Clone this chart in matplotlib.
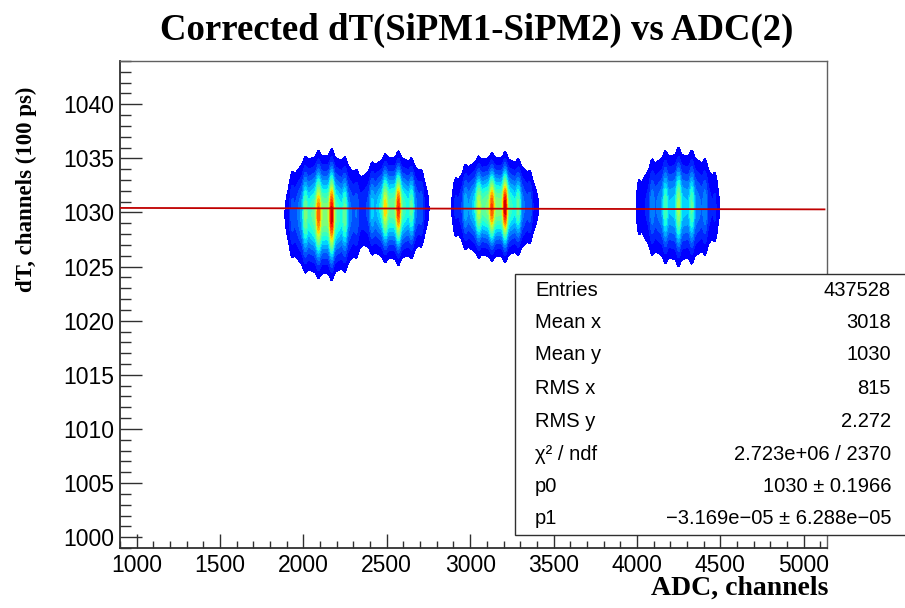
import numpy as np
import matplotlib.pyplot as plt
from matplotlib.colors import ListedColormap
from matplotlib.patches import Rectangle
from matplotlib.ticker import MultipleLocator

# the four islands: centre, width, height (ADC, dT) and relative peak
blob_xc = [2125, 2545, 3150, 4250]
blob_xw = [116, 104, 128, 135]
blob_yc = [1029.8, 1030.4, 1030.5, 1030.5]
blob_yw = [2.5, 2.2, 2.1, 2.5]
blob_amp = [1.0, 0.9, 1.0, 0.6]
# bright vertical streaks seen inside each island, with their strength
blob_streaks = [
    [1930, 2010, 2090, 2170, 2250, 2320],
    [2410, 2490, 2570, 2650, 2710],
    [2910, 2970, 3050, 3130, 3210, 3290, 3360],
    [4010, 4090, 4170, 4250, 4330, 4410, 4470],
]
streak_w = [
    [0.9, 0.9, 1.0, 1.6, 1.0, 0.8],
    [0.9, 1.0, 1.5, 1.0, 0.8],
    [0.8, 0.9, 0.9, 1.0, 1.7, 1.0, 0.8],
    [0.8, 0.9, 1.0, 1.3, 1.1, 0.9, 0.8],
]

# linear fit (pol1) and stat box content
fit_p0 = 1030.45
fit_p1 = -3.169e-05
stat_labels = ["Entries", "Mean x", "Mean y", "RMS x", "RMS y",
               "\u03c7\u00b2 / ndf", "p0", "p1"]
stat_values = ["437528", "3018", "1030", "815", "2.272",
               "2.723e+06 / 2370", "1030 \u00b1 0.1966",
               "\u22123.169e\u221205 \u00b1 6.288e\u221205"]

x_lo, x_hi = 900, 5140
y_lo, y_hi = 999, 1044

fig = plt.figure(figsize=(9.05, 6.08), dpi=100)
ax = fig.add_axes([0.1326, 0.0987, 0.9138 - 0.1326, 0.8997 - 0.0987])

# density map: smooth envelope per island, modulated by the streaks
xg = np.arange(x_lo, x_hi, 3.0)
yg = np.arange(y_lo, y_hi, 0.06)
X, Y = np.meshgrid(xg, yg)
Z = np.zeros_like(X)
for xc, xw, yc, yw, amp, streaks, sw in zip(blob_xc, blob_xw, blob_yc, blob_yw,
                                            blob_amp, blob_streaks, streak_w):
    env = amp * np.exp(-0.5 * np.abs((X - xc) / xw) ** 2.2) * np.exp(-0.5 * ((Y - yc) / yw) ** 2)
    ridge = np.zeros_like(X)
    for s, w in zip(streaks, sw):
        ridge += w * np.exp(-0.5 * ((X - s) / 9.0) ** 2)
    Z += env * (0.75 + 0.45 * ridge)

zmax = Z.max()
levels = np.linspace(0, zmax, 21)[1:]
levels = np.append(levels, zmax * 1.01)
cmap = ListedColormap(plt.cm.jet(np.linspace(0.12, 0.93, len(levels) - 1)))
ax.contourf(X, Y, Z, levels=levels, cmap=cmap, zorder=1)

# fit line
xf = np.array([x_lo, 5125])
ax.plot(xf, fit_p0 + fit_p1 * xf, color="#c00000", lw=1.3, zorder=3)

ax.set_xlim(x_lo, x_hi)
ax.set_ylim(y_lo, y_hi)
ax.xaxis.set_major_locator(MultipleLocator(500))
ax.xaxis.set_minor_locator(MultipleLocator(100))
ax.yaxis.set_major_locator(MultipleLocator(5))
ax.yaxis.set_minor_locator(MultipleLocator(1))
ax.tick_params(axis="both", which="both", direction="in", top=False, right=False,
               colors="#303030", labelcolor="black", labelsize=16.5, width=1.0)
ax.tick_params(axis="x", which="major", length=10, pad=4)
ax.tick_params(axis="x", which="minor", length=5)
ax.tick_params(axis="y", which="major", length=16, pad=4)
ax.tick_params(axis="y", which="minor", length=8)
for lab in ax.get_xticklabels() + ax.get_yticklabels():
    lab.set_family("Liberation Sans")
for side, sp in ax.spines.items():
    sp.set_color("#303030" if side in ("left", "bottom") else "#606060")
    sp.set_linewidth(1.3 if side in ("left", "bottom") else 1.0)

fig.text(0.527, 0.950, "Corrected dT(SiPM1-SiPM2) vs ADC(2)", ha="center", va="center",
         family="Liberation Serif", weight="bold", fontsize=26.5)
fig.text(0.915, 0.033, "ADC, channels", ha="right", va="center",
         family="Liberation Serif", weight="bold", fontsize=20)
fig.text(0.029, 1 - 87 / 608, "dT, channels (100 ps)", ha="center", va="top", rotation=90,
         family="Liberation Serif", weight="bold", fontsize=16.5)

# stat box, runs off the right edge of the canvas like the original
box = Rectangle((515 / 905, 1 - 535 / 608), 0.5, (535 - 274) / 608, transform=fig.transFigure,
                facecolor="white", edgecolor="#303030", lw=1.0, zorder=5)
fig.patches.append(box)
row_y = [290.7, 323, 355, 389, 421.7, 454, 486.7, 518.5]
for lab, val, yy in zip(stat_labels, stat_values, row_y):
    fig.text(535 / 905, 1 - yy / 608, lab, ha="left", va="center",
             family="Liberation Sans", fontsize=14.5, zorder=6)
    fig.text(891 / 905, 1 - yy / 608, val, ha="right", va="center",
             family="Liberation Sans", fontsize=14.5, zorder=6)

fig.savefig("out.png", dpi=100)
